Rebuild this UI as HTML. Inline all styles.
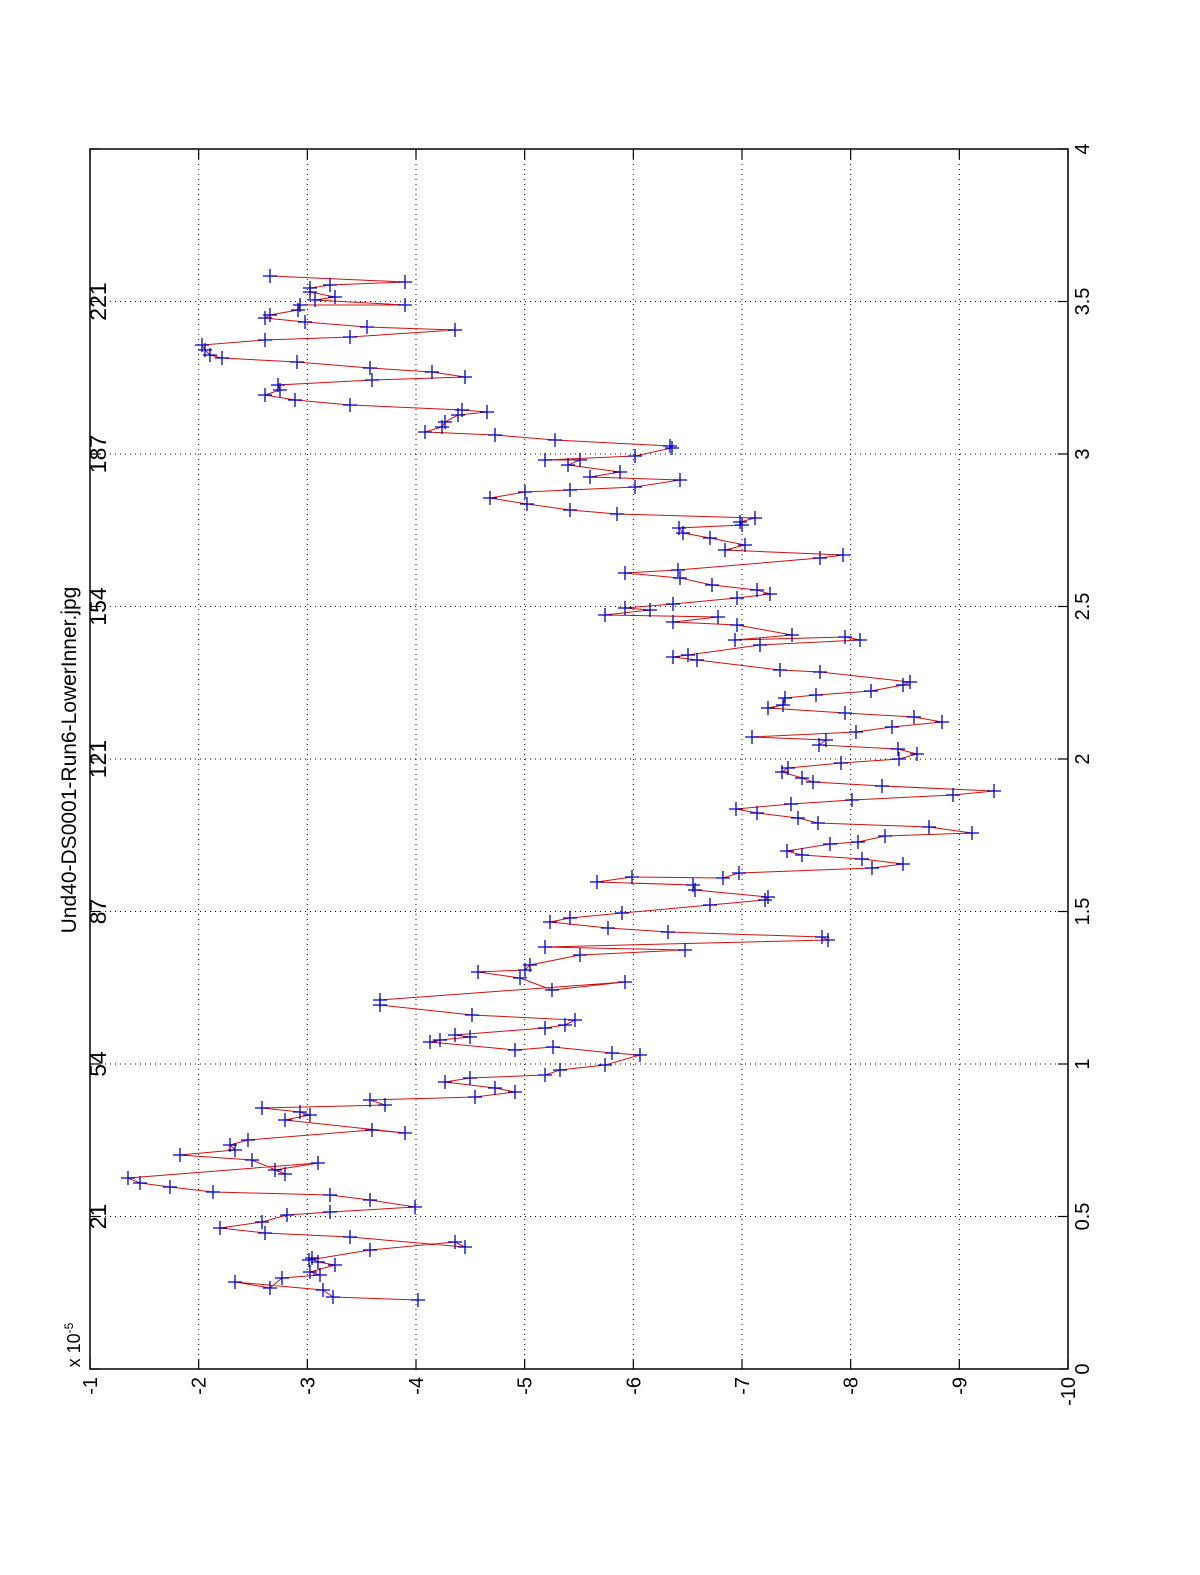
<!DOCTYPE html>
<html><head><meta charset="utf-8"><style>html,body{margin:0;padding:0;background:#fff}svg{display:block}</style></head>
<body>
<svg width="1200" height="1575" viewBox="0 0 1200 1575" xmlns="http://www.w3.org/2000/svg" font-family="Liberation Sans, sans-serif">
<rect width="1200" height="1575" fill="#fff"/>
<g id="grid" stroke="#000" stroke-width="1" stroke-dasharray="1,4"></g>
<g id="ticks" stroke="#000" stroke-width="1.2"></g>
<rect x="90" y="149" width="978" height="1220" fill="none" stroke="#000" stroke-width="1.5"/>
<polyline id="line" fill="none" stroke="#d01010" stroke-width="1"/>
<g id="marks" stroke="#0000cc" stroke-width="1.3"></g>
<g id="labels" font-size="20" fill="#000"></g>
<text transform="translate(76,760) rotate(-90)" text-anchor="middle" font-size="21">Und40-DS0001-Run6-LowerInner.jpg</text>
<text transform="translate(80,1345) rotate(-90)" text-anchor="middle" font-size="18">x 10<tspan dy="-7" font-size="12">-5</tspan></text>
</svg>
<script>
var ns="http://www.w3.org/2000/svg";
function el(p,t,a,txt){var e=document.createElementNS(ns,t);for(var k in a)e.setAttribute(k,a[k]);if(txt!==undefined)e.textContent=txt;document.getElementById(p).appendChild(e);}
var L=90,R=1068,T=149,B=1369,dx=(R-L)/9,dy=(B-T)/8;
for(var i=0;i<=9;i++){var x=L+i*dx;
 if(i>0&&i<9)el("grid","line",{x1:x,y1:T,x2:x,y2:B});
 el("ticks","line",{x1:x,y1:B,x2:x,y2:B-10});el("ticks","line",{x1:x,y1:T,x2:x,y2:T+10});
 el("labels","text",{transform:"translate("+(x+7)+",1377) rotate(-90)","text-anchor":"end"},String(-(i+1)));}
var xl=["0","0.5","1","1.5","2","2.5","3","3.5","4"],tl=["","21","54","87","121","154","187","221",""];
for(var j=0;j<=8;j++){var y=B-j*dy;
 if(j>0&&j<8)el("grid","line",{x1:L,y1:y,x2:R,y2:y});
 el("ticks","line",{x1:L,y1:y,x2:L+10,y2:y});el("ticks","line",{x1:R,y1:y,x2:R-10,y2:y});
 el("labels","text",{transform:"translate(1089,"+y+") rotate(-90)","text-anchor":"middle"},xl[j]);
 if(tl[j])el("labels","text",{transform:"translate(106,"+y+") rotate(-90)","text-anchor":"middle","font-size":"23"},tl[j]);}
var P=[[418,1300],[333,1297],[323,1290],[235,1282],[270,1288],[282,1278],[320,1275],[310,1272],[335,1265],[318,1262],[312,1258],[309,1260],[370,1250],[455,1242],[465,1247],[350,1237],[265,1233],[220,1228],[262,1222],[287,1215],[330,1212],[415,1207],[370,1200],[330,1195],[213,1192],[170,1187],[140,1183],[128,1178],[318,1163],[275,1170],[285,1174],[252,1160],[180,1155],[235,1150],[230,1145],[248,1140],[372,1130],[405,1133],[285,1120],[310,1115],[300,1112],[262,1108],[385,1105],[370,1100],[475,1097],[515,1092],[495,1088],[445,1082],[470,1078],[545,1075],[560,1070],[605,1065],[640,1055],[612,1053],[553,1047],[515,1050],[430,1042],[440,1040],[470,1037],[455,1035],[545,1028],[565,1025],[575,1020],[472,1015],[380,1005],[380,1000],[625,982],[552,990],[520,978],[478,972],[525,970],[530,965],[580,955],[685,950],[545,947],[828,940],[822,937],[668,932],[608,928],[550,922],[570,918],[622,913],[710,905],[765,900],[768,897],[695,890],[693,885],[597,882],[632,877],
[723,878],[739,873],[872,868],[903,864],[862,859],[802,855],[787,851],[830,844],[858,842],[885,836],[972,833],[929,827],[818,823],[798,818],[757,813],[736,809],[791,804],[852,800],[953,795],[994,791],[882,786],[813,782],[802,778],[782,772],[788,768],[841,763],[899,759],[917,754],[898,749],[819,745],[826,740],[752,737],[856,732],[892,727],[942,722],[914,717],[845,713],[768,708],[783,705],[785,698],[816,695],[871,691],[903,685],[910,682],
[820,672],[780,670],[697,660],[673,657],[688,655],[760,645],[860,640],[845,637],[735,640],[792,635],[737,625],[673,622],[718,617],[605,615],[650,610],[625,608],[673,604],[737,598],[770,594],[757,590],[712,585],[680,578],[625,573],[678,570],[820,558],[843,555],[725,550],[745,545],[710,538],[683,533],[679,528],[742,525],[740,522],[755,518],[617,514],[570,510],[527,504],[490,498],[525,492],[570,490],[635,487],[680,480],[590,477],[620,472],[568,465],[580,460],[545,460],[635,456],[672,448],[670,446],[555,440],[495,435],[425,432],[442,427],[445,422],[458,415],[487,412],[462,410],[350,405],[295,400],[265,395],[280,390],[278,385],[372,380],[465,377],[432,372],[370,368],[297,362],[222,358],[210,355],[205,350],[202,345],[265,340],[350,337],[455,330],[367,327],[305,322],[265,318],[270,315],[298,310],[300,305],[405,305],[315,300],[335,297],[310,292],[310,288],[330,285],[405,282],[270,276]];
document.getElementById("line").setAttribute("points",P.map(function(p){return p.join(",")}).join(" "));
P.forEach(function(p){el("marks","path",{d:"M"+(p[0]-7)+","+p[1]+"h14M"+p[0]+","+(p[1]-7)+"v14"});});
</script>
</body></html>
